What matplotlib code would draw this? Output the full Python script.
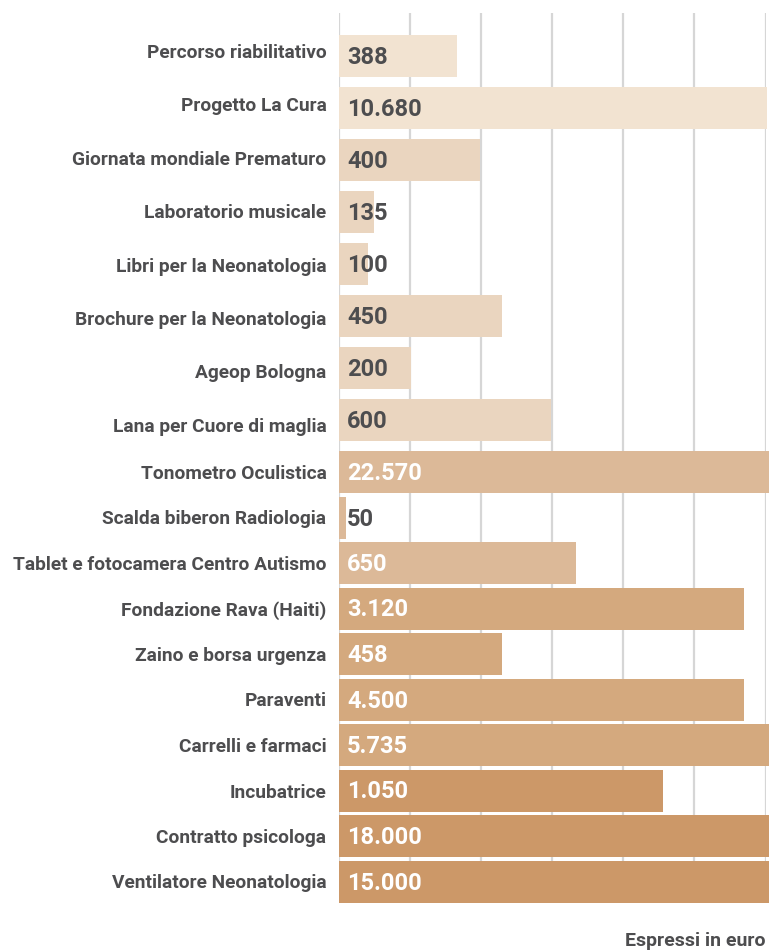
import matplotlib
matplotlib.use("Agg")
import matplotlib.pyplot as plt

# data
categories = [
    "Percorso riabilitativo", "Progetto La Cura", "Giornata mondiale Prematuro",
    "Laboratorio musicale", "Libri per la Neonatologia", "Brochure per la Neonatologia",
    "Ageop Bologna", "Lana per Cuore di maglia", "Tonometro Oculistica",
    "Scalda biberon Radiologia", "Tablet e fotocamera Centro Autismo",
    "Fondazione Rava (Haiti)", "Zaino e borsa urgenza", "Paraventi",
    "Carrelli e farmaci", "Incubatrice", "Contratto psicologa", "Ventilatore Neonatologia",
]
amounts = [388, 10680, 400, 135, 100, 450, 200, 600, 22570, 50, 650,
           3120, 458, 4500, 5735, 1050, 18000, 15000]
# bar lengths as drawn in the infographic, in gridline units (grid 0..6)
bar_len = [1.66, 6.02, 1.99, 0.50, 0.42, 2.30, 1.02, 2.99, 6.06, 0.11, 3.34,
           5.70, 2.30, 5.70, 6.06, 4.56, 6.06, 6.06]
group = [0, 0, 1, 1, 1, 1, 1, 1, 2, 2, 2, 3, 3, 3, 3, 4, 4, 4]

palette = ["#F2E3D1", "#EAD5BF", "#DCB998", "#D4A97E", "#CC9868"]
dark = "#4D4D4F"
W, H = 769, 950

plt.rcParams["font.family"] = ["Roboto", "DejaVu Sans"]

fig = plt.figure(figsize=(W / 100, H / 100), dpi=100)
x0, x1 = 338.5, 765.5
ax = fig.add_axes([x0 / W, 0, (x1 - x0) / W, 1])
ax.set_xlim(0, 6)
ax.set_ylim(H, 0)
ax.axis("off")

px = 6 / (x1 - x0)  # one pixel in x data units

# row layout (pixels from top)
n = len(categories)
bar_y = [56 + 52 * i if i < 8 else 472 + 45.5 * (i - 8) for i in range(n)]
lab_y = [51 + 53.4 * i if i < 8 else 472 + 45.5 * (i - 8) for i in range(n)]

ax.vlines(range(7), 13, 903, color="#D6D6D6", lw=1.6, zorder=0)

for i in range(n):
    ax.barh(bar_y[i], bar_len[i], height=42, left=0, color=palette[group[i]],
            zorder=1, clip_on=False)
    txt_col = dark if (group[i] < 2 or bar_len[i] < 0.3) else "white"
    ax.text(8.5 * px, bar_y[i] + 8, f"{amounts[i]:,}".replace(",", "."),
            ha="left", va="baseline", fontsize=17, fontweight="bold",
            color=txt_col, zorder=2)
    ax.text(-12 * px, lab_y[i] + 7, categories[i], ha="right", va="baseline",
            fontsize=13.8, fontweight="bold", color=dark, clip_on=False)

ax.text(1, 946, "Espressi in euro", transform=ax.get_yaxis_transform(),
        ha="right", va="baseline", fontsize=14, fontweight="bold", color=dark)

fig.savefig("out.png", dpi=100)
